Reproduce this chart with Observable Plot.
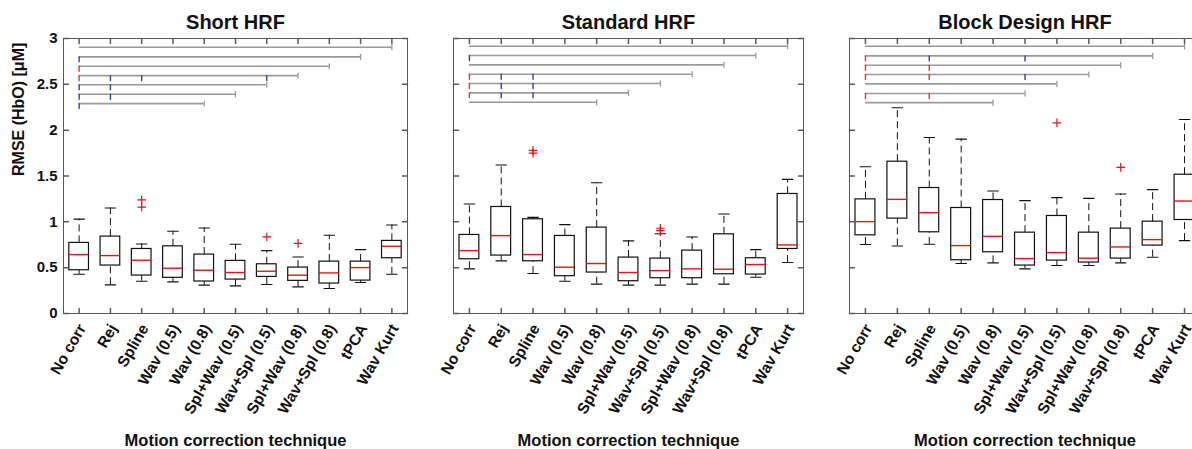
<!DOCTYPE html>
<html><head><meta charset="utf-8">
<script src="https://cdn.jsdelivr.net/npm/d3@7"></script>
<script src="https://cdn.jsdelivr.net/npm/@observablehq/plot@0.6"></script>
<style>
html,body{margin:0;padding:0;background:#fff;}
#wrap{position:relative;width:1192px;height:449px;overflow:hidden;background:#fff;}
#wrap svg{position:absolute;top:0;overflow:visible;}
</style></head><body><div id="wrap"></div>
<script>
const techniques = ["No corr","Rej","Spline","Wav (0.5)","Wav (0.8)","Spl+Wav (0.5)","Wav+Spl (0.5)","Spl+Wav (0.8)","Wav+Spl (0.8)","tPCA","Wav Kurt"];
const positions = techniques.map((d, i) => i + 1);
const yTicks = [0, 0.5, 1, 1.5, 2, 2.5, 3];
const yTickLabels = ["0", "0.5", "1", "1.5", "2", "2.5", "3"];
const panelTitles = ["Short HRF", "Standard HRF", "Block Design HRF"];
const xLabel = "Motion correction technique";
const yLabel = "RMSE (HbO) [μM]";

// Short HRF
const shortLow  = [0.428, 0.312, 0.352, 0.345, 0.309, 0.301, 0.316, 0.290, 0.272, 0.338, 0.428];
const shortQ1   = [0.472, 0.523, 0.414, 0.389, 0.349, 0.370, 0.399, 0.356, 0.327, 0.359, 0.603];
const shortMed  = [0.643, 0.632, 0.581, 0.494, 0.472, 0.447, 0.461, 0.418, 0.443, 0.501, 0.733];
const shortQ3   = [0.770, 0.839, 0.704, 0.733, 0.643, 0.574, 0.537, 0.501, 0.566, 0.566, 0.792];
const shortHigh = [1.030, 1.151, 0.759, 0.897, 0.933, 0.755, 0.686, 0.617, 0.853, 0.697, 0.966];
const shortOutTech = [3, 3, 7, 8];
const shortOutVal  = [1.24, 1.16, 0.835, 0.765];

// Standard HRF
const stdLow  = [0.487, 0.574, 0.436, 0.352, 0.320, 0.309, 0.309, 0.320, 0.320, 0.396, 0.556];
const stdQ1   = [0.592, 0.632, 0.570, 0.407, 0.447, 0.352, 0.385, 0.385, 0.428, 0.425, 0.704];
const stdMed  = [0.686, 0.850, 0.643, 0.505, 0.545, 0.447, 0.468, 0.487, 0.483, 0.534, 0.748];
const stdQ3   = [0.857, 1.162, 1.028, 0.846, 0.937, 0.610, 0.599, 0.686, 0.864, 0.603, 1.304];
const stdHigh = [1.195, 1.620, 1.049, 0.970, 1.427, 0.792, 0.870, 0.835, 1.086, 0.697, 1.463];
const stdOutTech = [3, 3, 7, 7];
const stdOutVal  = [1.78, 1.75, 0.93, 0.905];

// Block Design HRF
const blockLow  = [0.752, 0.737, 0.755, 0.545, 0.552, 0.487, 0.523, 0.523, 0.552, 0.614, 0.795];
const blockQ1   = [0.853, 1.035, 0.886, 0.581, 0.668, 0.523, 0.577, 0.556, 0.599, 0.741, 1.020];
const blockMed  = [1.002, 1.245, 1.100, 0.741, 0.842, 0.599, 0.664, 0.603, 0.726, 0.806, 1.227];
const blockQ3   = [1.245, 1.656, 1.369, 1.151, 1.238, 0.882, 1.064, 0.882, 0.926, 1.002, 1.514];
const blockHigh = [1.601, 2.244, 1.920, 1.902, 1.336, 1.231, 1.264, 1.256, 1.304, 1.351, 2.117];
const blockOutTech = [7, 9];
const blockOutVal  = [2.08, 1.594];

// significance brackets (from "No corr" to the end technique)
const sigEnds = [11, 10, 9, 8, 7, 6, 5];
const shortSigY = [2.905, 2.80, 2.697, 2.595, 2.495, 2.392, 2.29];
const stdSigY   = [2.915, 2.814, 2.712, 2.61, 2.509, 2.407, 2.305];
const blockSigY = [2.915, 2.81, 2.708, 2.607, 2.505, 2.40, 2.30];
// marks on brackets: row index (0-based), technique position, kind (1 = red, 2 = blue)
const shortMarkRow  = [1, 2, 3, 3, 3, 3, 4, 4, 5, 5, 6];
const shortMarkTech = [1, 1, 1, 2, 3, 7, 1, 2, 1, 2, 1];
const shortMarkKind = [2, 1, 1, 2, 2, 2, 2, 2, 2, 2, 2];
const stdMarkRow  = [1, 3, 3, 3, 4, 4, 4, 5, 5, 5];
const stdMarkTech = [1, 1, 2, 3, 1, 2, 3, 1, 2, 3];
const stdMarkKind = [2, 1, 2, 2, 1, 2, 2, 1, 2, 2];
const blockMarkRow  = [1, 1, 1, 2, 2, 3, 3, 3, 5, 5];
const blockMarkTech = [1, 3, 6, 1, 3, 1, 3, 6, 1, 3];
const blockMarkKind = [1, 2, 2, 1, 1, 1, 1, 2, 1, 1];

const FONT = "'Liberation Sans', Arial, Helvetica, sans-serif";
const lineShape = {draw(context, l) { context.moveTo(0, 0); context.lineTo(0, -l); }};

function makePanel(cfg) {
  const rows = positions.map((p, i) => ({pos: p, lo: cfg.low[i], q1: cfg.q1[i], med: cfg.med[i], q3: cfg.q3[i], hi: cfg.high[i]}));
  const outs = cfg.outTech.map((t, i) => ({pos: t, v: cfg.outVal[i]}));
  const sig = sigEnds.map((e, i) => ({start: positions[0], end: e, y: cfg.sigY[i]}));
  const marks = cfg.markRow.map((r, i) => ({pos: cfg.markTech[i], y: cfg.sigY[r], kind: cfg.markKind[i]}));
  const frameColor = "#5a5a5a";
  const m = [
    // significance brackets
    Plot.ruleY(sig, {y: "y", x1: "start", x2: "end", stroke: "#9a9a9a", strokeWidth: 1.6}),
    Plot.vector(sig, {x: "end", y: "y", length: 5, anchor: "middle", shape: lineShape, stroke: "#9a9a9a", strokeWidth: 1.3, fill: "none"}),
    Plot.vector(marks, {x: "pos", y: "y", rotate: 180, length: 5, anchor: "start", shape: lineShape, stroke: "kind", strokeWidth: 1.4, fill: "none"}),
    // whiskers
    Plot.ruleX(rows, {x: "pos", y1: "q3", y2: "hi", stroke: "#111", strokeWidth: 1, strokeDasharray: "7,4"}),
    Plot.ruleX(rows, {x: "pos", y1: "lo", y2: "q1", stroke: "#111", strokeWidth: 1, strokeDasharray: "7,4"}),
    Plot.vector(rows, {x: "pos", y: "hi", rotate: 90, length: 10.5, anchor: "middle", shape: lineShape, stroke: "#111", strokeWidth: 1.1, fill: "none"}),
    Plot.vector(rows, {x: "pos", y: "lo", rotate: 90, length: 10.5, anchor: "middle", shape: lineShape, stroke: "#111", strokeWidth: 1.1, fill: "none"}),
    // boxes
    Plot.rect(rows, {x1: d => d.pos - 0.5, x2: d => d.pos + 0.5, y1: "q1", y2: "q3", inset: 0, insetLeft: cfg.boxInset, insetRight: cfg.boxInset, fill: "white", stroke: "#111", strokeWidth: 1.2}),
    Plot.ruleY(rows, {y: "med", x1: d => d.pos - 0.5, x2: d => d.pos + 0.5, insetLeft: cfg.boxInset, insetRight: cfg.boxInset, stroke: "#ee1111", strokeWidth: 1.4}),
    // outliers
    Plot.dot(outs, {x: "pos", y: "v", symbol: "plus", r: 2.9, stroke: "#ee1111", strokeWidth: 1.2}),
    // frame and inward ticks
    Plot.frame({stroke: frameColor, strokeWidth: 1}),
    Plot.vector(yTicks, {y: d => d, frameAnchor: "left", rotate: 90, length: 5, anchor: "start", shape: lineShape, stroke: frameColor, fill: "none"}),
    Plot.vector(yTicks, {y: d => d, frameAnchor: "right", rotate: -90, length: 5, anchor: "start", shape: lineShape, stroke: frameColor, fill: "none"}),
    Plot.vector(positions, {x: d => d, frameAnchor: "bottom", rotate: 0, length: 5, anchor: "start", shape: lineShape, stroke: frameColor, fill: "none"}),
    Plot.vector(positions, {x: d => d, frameAnchor: "top", rotate: 180, length: 5, anchor: "start", shape: lineShape, stroke: frameColor, fill: "none"}),
    // x tick labels
    Plot.text(positions, {x: d => d, text: d => techniques[d - 1], frameAnchor: "bottom", dx: 3, dy: 12, rotate: -60, textAnchor: "end", lineAnchor: "middle", fontSize: 15.5, fill: "#111"}),
    // titles
    Plot.text([cfg.title], {frameAnchor: "top", dy: -16, fontSize: 20, lineAnchor: "middle", fill: "#111"}),
    Plot.text([xLabel], {frameAnchor: "bottom", dy: 127, fontSize: 16.5, lineAnchor: "middle", fill: "#111"})
  ];
  if (cfg.showY) {
    m.push(Plot.axisY(yTicks, {tickFormat: d => yTickLabels[yTicks.indexOf(d)], tickSize: 0, tickPadding: 6, fontSize: 15, fill: "#111"}));
    m.push(Plot.text([yLabel], {frameAnchor: "left", dx: -45, rotate: -90, fontSize: 16, lineAnchor: "middle", fill: "#111"}));
  }
  const svg = Plot.plot({
    width: cfg.width, height: 449,
    marginLeft: cfg.marginLeft, marginRight: cfg.marginRight, marginTop: 38, marginBottom: 136,
    x: {type: "linear", domain: [0.5, 11.5], axis: null},
    y: {type: "linear", domain: [0, 3], axis: cfg.showY ? undefined : null},
    color: {type: "ordinal", domain: [1, 2], range: ["#ff2a2a", "#3040a8"]},
    style: {fontFamily: FONT, fontWeight: "bold", background: "transparent", overflow: "visible"},
    marks: m
  });
  svg.style.left = cfg.left + "px";
  return svg;
}

const wrap = document.getElementById("wrap");
wrap.appendChild(makePanel({title: panelTitles[0], left: 0, width: 420, marginLeft: 63, marginRight: 13, boxInset: 5.8, showY: true,
  low: shortLow, q1: shortQ1, med: shortMed, q3: shortQ3, high: shortHigh, outTech: shortOutTech, outVal: shortOutVal,
  sigY: shortSigY, markRow: shortMarkRow, markTech: shortMarkTech, markKind: shortMarkKind}));
wrap.appendChild(makePanel({title: panelTitles[1], left: 400, width: 420, marginLeft: 53, marginRight: 17, boxInset: 6, showY: false,
  low: stdLow, q1: stdQ1, med: stdMed, q3: stdQ3, high: stdHigh, outTech: stdOutTech, outVal: stdOutVal,
  sigY: stdSigY, markRow: stdMarkRow, markTech: stdMarkTech, markKind: stdMarkKind}));
wrap.appendChild(makePanel({title: panelTitles[2], left: 800, width: 430, marginLeft: 49, marginRight: 30, boxInset: 6, showY: false,
  low: blockLow, q1: blockQ1, med: blockMed, q3: blockQ3, high: blockHigh, outTech: blockOutTech, outVal: blockOutVal,
  sigY: blockSigY, markRow: blockMarkRow, markTech: blockMarkTech, markKind: blockMarkKind}));
</script></body></html>
